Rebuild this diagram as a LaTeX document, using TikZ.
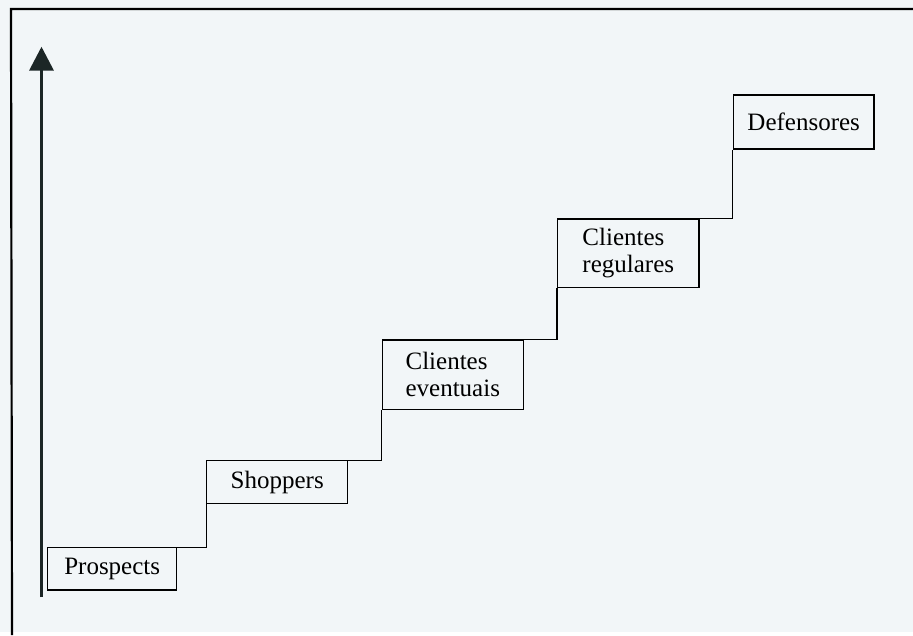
\documentclass[tikz,border=0pt]{standalone}
\usepackage{fontspec}
\setmainfont{Liberation Serif}
\usetikzlibrary{arrows.meta}
\definecolor{paper}{HTML}{F2F6F8}
\definecolor{inkdark}{HTML}{1C2626}
\tikzset{
  stepbox/.style={draw=black, line width=1.2pt, fill=none, inner sep=0pt,
    font=\fontsize{25}{27}\selectfont, align=left, text=black},
  riser/.style={draw=black, line width=1.2pt},
  frameline/.style={draw=black, line width=2.2pt},
  growth/.style={draw=inkdark, line width=3.6pt,
    -{Triangle[width=24pt,length=24pt]}}
}
\begin{document}
\begin{tikzpicture}[x=1pt,y=-1pt]
\useasboundingbox (0,0) rectangle (913,635);
\fill[paper] (0,0) rectangle (913,635);
\fill[white] (0,632) rectangle (913,635);
% frame
\coordinate (ftr) at (913,9);
\coordinate (ftl) at (11,9);
\coordinate (fbl) at (12,635);
\draw[frameline] (ftr) -- (ftl) -- (fbl);
% boxes
\node[stepbox, minimum width=129pt, minimum height=42.3pt] (P) at (112.2,568.9) {Prospects};
\node[stepbox, minimum width=141pt, minimum height=42.6pt] (S) at (277.2,482) {Shoppers};
\node[stepbox, minimum width=141pt, minimum height=69.3pt] (E) at (452.8,374.7) {Clientes\\eventuais};
\node[stepbox, minimum width=141.3pt, minimum height=68.3pt] (R) at (628.3,253.2) {Clientes\\regulares};
\node[stepbox, minimum width=140.7pt, minimum height=54pt] (D) at (803.7,122) {Defensores};
% risers
\draw[riser] (P.north east) -- (S.west |- P.north) -- (S.south west);
\draw[riser] (S.north east) -- (E.west |- S.north) -- (E.south west);
\draw[riser] (E.north east) -- (R.west |- E.north) -- (R.south west);
\draw[riser] (R.north east) -- (D.west |- R.north) -- (D.south west);
% arrow
\coordinate (abot) at (41.5,597);
\coordinate (atop) at (41.5,46.7);
\draw[growth] (abot) -- (atop);
\end{tikzpicture}
\end{document}
